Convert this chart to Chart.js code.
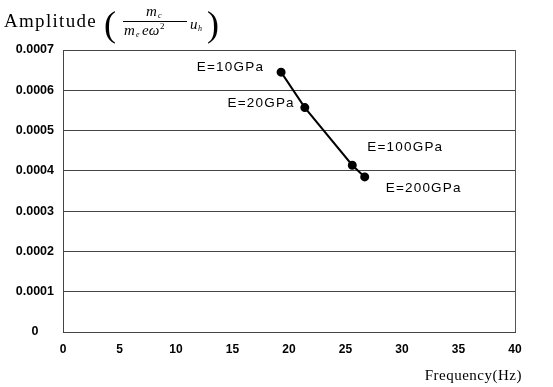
<!DOCTYPE html>
<html>
<head>
<meta charset="utf-8">
<script src="https://cdn.jsdelivr.net/npm/chart.js@4/dist/chart.umd.min.js"></script>
<style>
  html, body { margin: 0; padding: 0; background: #fff; }
  #wrap { width: 553px; height: 387px; }
</style>
</head>
<body>
<div id="wrap"><canvas id="myChart"></canvas></div>
<script>
// values
var frequency = [19.3, 21.4, 25.6, 26.7];
var amplitude = [0.000645, 0.000557, 0.000414, 0.000385];
var pointLabels = ['E=10GPa', 'E=20GPa', 'E=100GPa', 'E=200GPa'];
var yTicks = [0, 0.0001, 0.0002, 0.0003, 0.0004, 0.0005, 0.0006, 0.0007];

// where each label sits next to its point: [dx, dy, align]
var labelPlace = [
    [-17, -5, 'right'],
    [-10, -4, 'right'],
    [15, -18, 'left'],
    [21, 11, 'left']
];

var points = frequency.map(function (f, i) { return { x: f, y: amplitude[i] }; });

var serif = '"Liberation Serif", "DejaVu Serif", serif';
var sans = '"Liberation Sans", Arial, sans-serif';

var extras = {
    id: 'extras',
    afterDraw: function (chart) {
        var c = chart.ctx;
        var a = chart.chartArea;
        c.save();
        // right frame line
        c.strokeStyle = '#555';
        c.lineWidth = 1;
        c.beginPath();
        c.moveTo(a.right + 0.5, a.top);
        c.lineTo(a.right + 0.5, a.bottom);
        c.stroke();

        // point labels
        var meta = chart.getDatasetMeta(0);
        c.fillStyle = '#000';
        c.font = '13.5px ' + sans;
        c.letterSpacing = '1.2px';
        c.textBaseline = 'middle';
        meta.data.forEach(function (p, i) {
            c.textAlign = labelPlace[i][2];
            c.fillText(pointLabels[i], p.x + labelPlace[i][0], p.y + labelPlace[i][1]);
        });

        // y axis title: Amplitude ( m_c / m_e e w^2  u_h )
        c.textAlign = 'left';
        c.textBaseline = 'alphabetic';
        c.letterSpacing = '1.3px';
        c.font = '19px ' + serif;
        c.fillText('Amplitude', 4, 27);
        c.letterSpacing = '0px';
        c.font = '36px ' + serif;
        c.fillText('(', 104, 36);
        c.fillText(')', 207, 36);
        c.font = 'italic 15px ' + serif;
        c.fillText('m', 146, 16);
        c.font = 'italic 8px ' + serif;
        c.fillText('c', 158, 18);
        c.beginPath();
        c.moveTo(123, 21.5);
        c.lineTo(187, 21.5);
        c.lineWidth = 1;
        c.strokeStyle = '#000';
        c.stroke();
        c.font = 'italic 15px ' + serif;
        c.fillText('m', 124, 35);
        c.font = 'italic 8px ' + serif;
        c.fillText('e', 136, 37);
        c.font = 'italic 15px ' + serif;
        c.fillText('e\u03c9', 142, 35);
        c.font = '9px ' + serif;
        c.fillText('2', 160, 29);
        c.font = 'italic 15px ' + serif;
        c.fillText('u', 190, 29);
        c.font = 'italic 8px ' + serif;
        c.fillText('h', 198, 31);

        // x axis title
        c.letterSpacing = '0.5px';
        c.font = '15px ' + serif;
        c.textAlign = 'right';
        c.fillText('Frequency(Hz)', 522, 380);
        c.restore();
    }
};

var ctx = document.getElementById('myChart').getContext('2d');
var myChart = new Chart(ctx, {
    type: 'line',
    data: {
        datasets: [{
            data: points,
            borderColor: '#000',
            backgroundColor: '#000',
            borderWidth: 2,
            pointRadius: 3.5,
            pointBackgroundColor: '#000',
            tension: 0
        }]
    },
    options: {
        responsive: true,
        maintainAspectRatio: false,
        animation: false,
        layout: { padding: { top: 50, right: 38, left: 0, bottom: 0 } },
        plugins: {
            legend: { display: false },
            tooltip: { enabled: false }
        },
        scales: {
            x: {
                type: 'linear',
                min: 0,
                max: 40,
                ticks: {
                    stepSize: 5,
                    padding: 10,
                    color: '#000',
                    font: { family: sans, size: 12, weight: 'bold' }
                },
                grid: { display: false, drawTicks: false },
                border: { display: true, color: '#444', width: 1 },
                afterFit: function (s) { s.height = 55; }
            },
            y: {
                min: 0,
                max: 0.0007,
                afterBuildTicks: function (s) {
                    s.ticks = yTicks.map(function (v) { return { value: v }; });
                },
                ticks: {
                    padding: 9,
                    crossAlign: 'center',
                    color: '#000',
                    font: { family: sans, size: 12.5, weight: 'bold' },
                    callback: function (v) { return v === 0 ? '0' : v.toFixed(4); }
                },
                grid: { color: '#444', drawTicks: false, lineWidth: 1 },
                border: { display: true, color: '#444', width: 1 },
                afterFit: function (s) { s.width = 63; }
            }
        }
    },
    plugins: [extras]
});
</script>
</body>
</html>
